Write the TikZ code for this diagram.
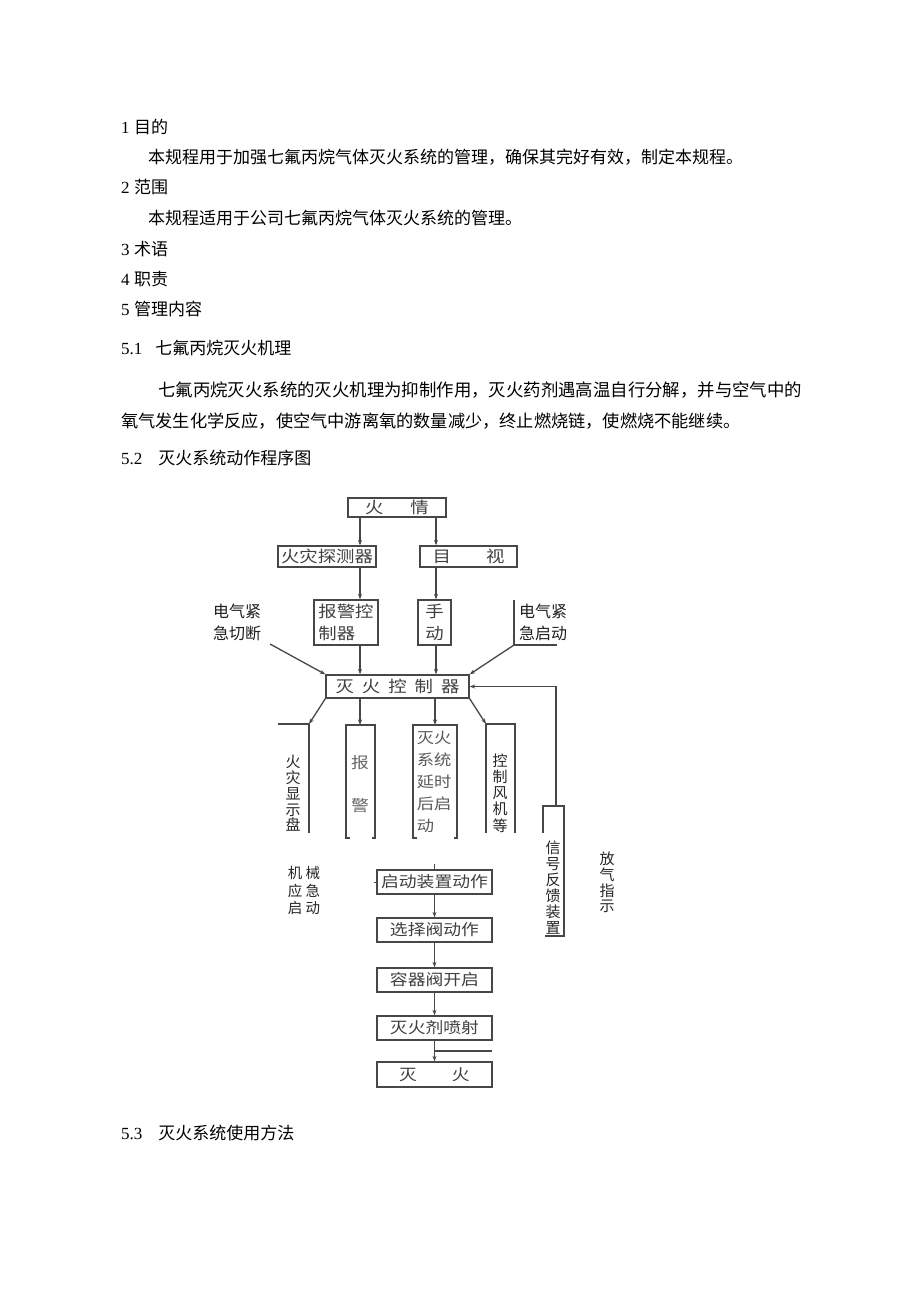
\documentclass[tikz,border=0pt]{standalone}
\usepackage{fontspec}
\setmainfont{Liberation Serif}
\newfontfamily\cjk{Noto Sans CJK SC}
\newfontfamily\cjkw[FakeStretch=1.15]{Noto Sans CJK SC}
\usetikzlibrary{arrows.meta}
\tikzset{
 ln/.style={draw=black!72, line width=1.3pt},
 arr/.style={ln, -{Stealth[length=5.5pt,width=4pt]}},
 box/.style={ln, rectangle, inner sep=0pt, font=\cjkw\fontsize{16}{22}\selectfont, text=black!75, align=center},
 cbox/.style={box, minimum width=115pt, minimum height=24pt, font=\cjkw\fontsize{15.5}{20}\selectfont},
 lbl/.style={inner sep=0pt, font=\cjk\fontsize{16}{22}\selectfont, text=black!88, align=left},
 vt/.style={inner sep=0pt, font=\cjk\fontsize{15}{15.75}\selectfont, text=black!85, align=center},
 body/.style={anchor=west, inner sep=0pt, font=\fontsize{17}{20}\selectfont},
}
\begin{document}
\begin{tikzpicture}[x=1pt,y=-1pt]
\useasboundingbox (0,0) rectangle (920,1301);
\fill[white] (0,0) rectangle (920,1301);
% body text
\node[body] (t1) at (121,127) {1\hspace{4.5pt}{\cjk 目的}};
\node[body] (t1a) at (148,157) {\cjk 本规程用于加强七氟丙烷气体灭火系统的管理，确保其完好有效，制定本规程。};
\node[body] (t2) at (121,187) {2\hspace{4.5pt}{\cjk 范围}};
\node[body] (t2a) at (148,218) {\cjk 本规程适用于公司七氟丙烷气体灭火系统的管理。};
\node[body] (t3) at (121,249) {3\hspace{4.5pt}{\cjk 术语}};
\node[body] (t4) at (121,279) {4\hspace{4.5pt}{\cjk 职责}};
\node[body] (t5) at (121,309) {5\hspace{4.5pt}{\cjk 管理内容}};
\node[body] (t51) at (121,348) {5.1\hspace{13pt}{\cjk 七氟丙烷灭火机理}};
\node[body, font=\fontsize{17.4}{20}\selectfont] (p1) at (158,390) {\cjk 七氟丙烷灭火系统的灭火机理为抑制作用，灭火药剂遇高温自行分解，并与空气中的};
\node[body, font=\fontsize{17.2}{20}\selectfont] (p2) at (121,421) {\cjk 氧气发生化学反应，使空气中游离氧的数量减少，终止燃烧链，使燃烧不能继续。};
\node[body] (t52) at (121,458) {5.2\hspace{16pt}{\cjk 灭火系统动作程序图}};
\node[body] (t53) at (121,1133) {5.3\hspace{16pt}{\cjk 灭火系统使用方法}};
% helper x coordinates
\coordinate (xL) at (360,0);
\coordinate (xR) at (436,0);
\coordinate (xD) at (435,0);
% boxes
\node[box, minimum width=98pt, minimum height=19pt] (fire) at (397,507.5) {火\hspace{27pt}情};
\node[box, minimum width=98pt, minimum height=21pt] (det) at (327,556.5) {火灾探测器};
\node[box, minimum width=97pt, minimum height=21pt] (vis) at (468.5,556.5) {目\hspace{35pt}视};
\node[box, minimum width=64pt, minimum height=45pt, align=left] (alarmc) at (346,622.5) {报警控\\制器};
\node[box, minimum width=33pt, minimum height=45pt] (manual) at (434.5,622.5) {手\\动};
\node[box, minimum width=143pt, minimum height=23pt] (ctrl) at (397.5,686.5) {灭\hspace{8pt}火\hspace{8pt}控\hspace{8pt}制\hspace{8pt}器};
\node[cbox] (start) at (434.5,882) {启动装置动作};
\node[cbox] (sel) at (434.5,930) {选择阀动作};
\node[cbox] (cont) at (434.5,980) {容器阀开启};
\node[cbox] (spray) at (434.5,1028) {灭火剂喷射};
\node[cbox, minimum height=25pt] (ext) at (434.5,1074.5) {灭\hspace{35pt}火};
% labels
\node[lbl] (lcut) at (237,622) {电气紧\\急切断};
\node[lbl] (lstart) at (543,622) {电气紧\\急启动};
\node[vt] (ldisp) at (293,793.5) {火\\灾\\显\\示\\盘};
\node[inner sep=0pt, font=\cjkw\fontsize{15.5}{43}\selectfont, text=black!60, align=center] (lalarm) at (360,784.5) {报\\警};
\node[inner sep=0pt, font=\cjkw\fontsize{15}{22}\selectfont, text=black!65, align=left] (ldelay) at (434,782) {灭火\\系统\\延时\\后启\\动};
\node[vt, font=\cjk\fontsize{15}{16.25}\selectfont] (lfan) at (500,793) {控\\制\\风\\机\\等};
\node[vt, font=\cjk\fontsize{15}{16}\selectfont] (lfb) at (553,887.5) {信\\号\\反\\馈\\装\\置};
\node[vt] (lvent) at (607,882.5) {放\\气\\指\\示};
\node[inner sep=0pt, font=\cjk\fontsize{14.5}{17.5}\selectfont, text=black!85, align=center] (lmech) at (304,890.5) {机\hspace{3.5pt}械\\应\hspace{3.5pt}急\\启\hspace{3.5pt}动};
% main arrows
\draw[arr] (fire.south -| xL) -- (det.north -| xL);
\draw[arr] (fire.south -| xR) -- (vis.north -| xR);
\draw[arr] (det.south -| xL) -- (alarmc.north -| xL);
\draw[arr] (vis.south -| xR) -- (manual.north -| xR);
\draw[arr] (alarmc.south -| xL) -- (ctrl.north -| xL);
\draw[arr] (manual.south -| xR) -- (ctrl.north -| xR);
% inputs to controller
\coordinate (ecut) at (270,644);
\coordinate (estart) at (514,645);
\draw[arr] (ecut) -- (ctrl.north west);
\draw[ln] (514,600) -- (estart) -- (557,645);
\draw[arr] (estart) -- (ctrl.north east);
% outputs of controller
\coordinate (dispc) at (309,724);
\coordinate (alarmt) at (360,725);
\coordinate (delayt) at (435,725);
\coordinate (fanc) at (486,724);
\draw[arr] (ctrl.south west) -- (dispc);
\draw[arr] (ctrl.south -| xL) -- (alarmt);
\draw[arr] (ctrl.south -| xD) -- (delayt);
\draw[arr] (ctrl.south east) -- (fanc);
\draw[ln] (278,724) -- (dispc) -- (309,833);
\draw[ln] (349.5,838) -- (346,838) -- (346,725) -- (375,725) -- (375,838) -- (371.5,838);
\draw[ln] (416.5,838) -- (413,838) -- (413,725) -- (457,725) -- (457,838) -- (453.5,838);
\draw[ln] (486,833) -- (fanc) -- (515,724) -- (515,833);
% feedback
\coordinate (fbk) at (556,806);
\draw[ln] (543,833) -- (543,806) -- (564,806) -- (564,936) -- (545,936);
\draw[arr] (fbk) |- (ctrl.east);
% chain
\coordinate (sttick) at (434.5,864);
\coordinate (stl) at (374,882);
\draw[ln, line width=1pt] (sttick) -- (start.north);
\draw[ln, line width=1pt] (stl) -- (start.west);
\draw[arr] (start) -- (sel);
\draw[arr] (sel) -- (cont);
\draw[arr] (cont) -- (spray);
\draw[arr] (spray) -- (ext);
\coordinate (sb) at (434.5,1051);
\coordinate (sbe) at (492,1051);
\draw[ln] (sb) -- (sbe);
\end{tikzpicture}
\end{document}
